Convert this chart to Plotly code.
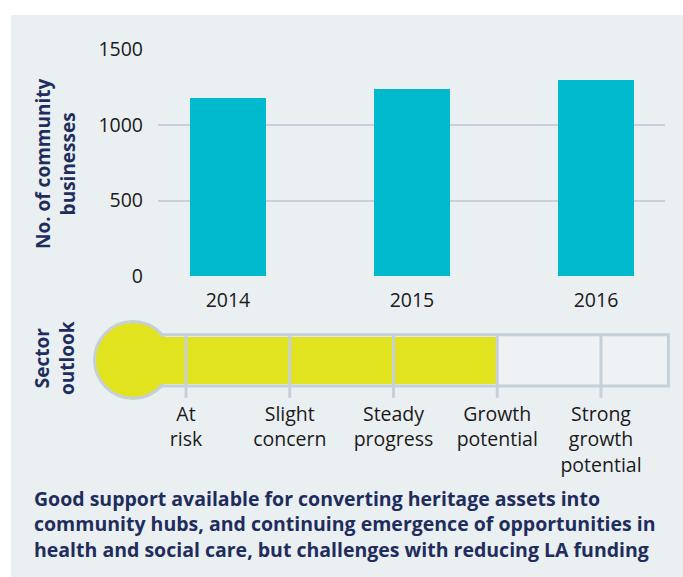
import plotly.graph_objects as go

# ---- data ----
years = ["2014", "2015", "2016"]
businesses = [1180, 1240, 1300]
y_ticks = [0, 500, 1000, 1500]

outlook_labels = ["At<br>risk", "Slight<br>concern", "Steady<br>progress",
                  "Growth<br>potential", "Strong<br>growth<br>potential"]
outlook_positions = [1, 2, 3, 4, 5]
outlook_level = 4  # "Growth potential"

summary_lines = [
    "Good support available for converting heritage assets into",
    "community hubs, and continuing emergence of opportunities in",
    "health and social care, but challenges with reducing LA funding",
]

# ---- style ----
W, H = 683, 577
TEAL = "#00b9cc"
YELLOW = "#e1e31e"
NAVY = "#1f2d5c"
GRID = "#c6d0d8"
BG = "#eaeff2"
TXT = "#1a1a1a"
FONT = "Open Sans"
FS = 19.5

def px(x):
    return x / W

def py(y):
    return 1 - y / H

fig = go.Figure()

# bar chart
fig.add_trace(go.Bar(
    x=years, y=businesses, marker=dict(color=TEAL, line=dict(width=0)),
    width=0.413, xaxis="x", yaxis="y", hoverinfo="skip", showlegend=False,
))

# thermometer fill
bulb_x = 0.489
fig.add_trace(go.Bar(
    x=[outlook_level - bulb_x], y=[0.4925], base=[bulb_x], orientation="h",
    width=0.875, marker=dict(color=YELLOW, line=dict(width=0)),
    xaxis="x2", yaxis="y2", hoverinfo="skip", showlegend=False,
))

shapes = [
    # panel background
    dict(type="rect", xref="paper", yref="paper", x0=px(11), x1=1, y0=0, y1=py(15),
         fillcolor=BG, line=dict(width=0), layer="below"),
    # thermometer tube
    dict(type="rect", xref="x2", yref="y2", x0=bulb_x, x1=5.65, y0=0.02, y1=0.965,
         fillcolor="#eef2f5", line=dict(color=GRID, width=3), layer="below"),
    # bulb
    dict(type="circle", xref="x2", yref="y2", xsizemode="pixel", ysizemode="pixel",
         xanchor=bulb_x, yanchor=0.5, x0=-38.5, x1=38.5, y0=-38.5, y1=38.5,
         fillcolor=YELLOW, line=dict(color=GRID, width=3), layer="below"),
]
for p in outlook_positions:
    shapes.append(dict(type="line", xref="x2", yref="y2", x0=p, x1=p, y0=-0.2, y1=0.965,
                       line=dict(color=GRID, width=3), layer="above"))

annotations = [
    dict(text="<b>No. of community<br>businesses</b>", xref="paper", yref="paper",
         x=px(55), y=py(164), xanchor="center", yanchor="middle", textangle=-90,
         showarrow=False, align="center", font=dict(family=FONT, size=19, color=NAVY)),
    dict(text="<b>Sector<br>outlook</b>", xref="paper", yref="paper",
         x=px(54), y=py(358), xanchor="center", yanchor="middle", textangle=-90,
         showarrow=False, align="center", font=dict(family=FONT, size=19, color=NAVY)),
    dict(text="<b>" + "<br>".join(summary_lines) + "</b>", xref="paper", yref="paper",
         x=px(32), y=py(483), xanchor="left", yanchor="top", showarrow=False,
         align="left", font=dict(family=FONT, size=19.5, color=NAVY)),
]

fig.update_layout(
    width=W, height=H, margin=dict(l=0, r=0, t=0, b=0, pad=0, autoexpand=False),
    paper_bgcolor="white", plot_bgcolor="rgba(0,0,0,0)",
    font=dict(family=FONT, size=FS, color=TXT),
    bargap=0, showlegend=False,
    shapes=shapes, annotations=annotations,
    xaxis=dict(domain=[px(158), px(665)], range=[-0.38, 2.375], type="category",
               anchor="y", showgrid=False, zeroline=False, showline=False, ticks="",
               automargin=False, ticklabelstandoff=10,
               tickfont=dict(family=FONT, size=FS, color=TXT), fixedrange=True),
    yaxis=dict(domain=[py(276), py(49.5)], range=[0, 1500], anchor="x",
               tickvals=y_ticks, showgrid=True, gridcolor=GRID, gridwidth=1.5,
               zeroline=False, showline=False, ticks="", ticklabelstandoff=14,
               automargin=False,
               tickfont=dict(family=FONT, size=FS, color=TXT), fixedrange=True),
    xaxis2=dict(domain=[0, 1], range=[-0.7928, 5.7904], anchor="y2",
                tickvals=outlook_positions, ticktext=outlook_labels,
                showgrid=False, zeroline=False, showline=False, ticks="",
                automargin=False, ticklabelstandoff=0,
                tickfont=dict(family=FONT, size=FS, color=TXT), fixedrange=True),
    yaxis2=dict(domain=[py(400.5), py(317.9)], range=[-0.25, 1.278], anchor="x2",
                visible=False, automargin=False, fixedrange=True),
)

fig.write_html("out.html", config={"displayModeBar": False},
               post_script="document.body.style.margin='0';document.body.style.overflow='hidden';")
